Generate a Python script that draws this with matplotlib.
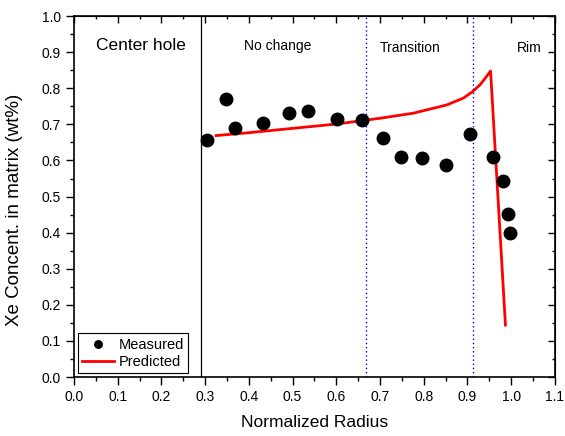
import matplotlib
matplotlib.use("Agg")
import matplotlib.pyplot as plt
from matplotlib.ticker import MultipleLocator, NullFormatter, FormatStrFormatter

plt.rcParams['font.family'] = ['Liberation Sans', 'DejaVu Sans']

meas_x = [0.304, 0.348, 0.368, 0.432, 0.492, 0.535, 0.602, 0.659, 0.707, 0.748,
          0.796, 0.851, 0.906, 0.959, 0.982, 0.993, 0.998]
meas_y = [0.658, 0.769, 0.690, 0.703, 0.732, 0.736, 0.715, 0.711, 0.662, 0.610,
          0.607, 0.588, 0.673, 0.609, 0.543, 0.451, 0.398]

pred_x = [0.325, 0.40, 0.50, 0.60, 0.70, 0.776, 0.853, 0.891, 0.912, 0.929, 0.944, 0.953, 0.987]
pred_y = [0.669, 0.677, 0.689, 0.701, 0.717, 0.731, 0.754, 0.773, 0.791, 0.810, 0.833, 0.848, 0.144]

region_lines = [0.29, 0.669, 0.912]
region_labels = ["Center hole", "No change", "Transition", "Rim"]
label_x = [0.152, 0.465, 0.769, 1.041]
label_y = [0.918, 0.918, 0.913, 0.913]

fig = plt.figure(figsize=(5.65, 4.36), dpi=100)
ax = fig.add_axes([0.131, 0.1353, 0.851, 0.8277])

ax.plot(meas_x, meas_y, 'o', color='black', ms=9, label='Measured', zorder=3)
ax.plot(pred_x, pred_y, '-', color='#ff0000', lw=2.0, label='Predicted', zorder=2)

ax.axvline(region_lines[0], color='black', lw=0.9)
ax.axvline(region_lines[1], color='blue', lw=1.0, ls=(0, (1, 2)))
ax.axvline(region_lines[2], color='blue', lw=1.0, ls=(0, (1, 2)))

ax.text(label_x[0], label_y[0], region_labels[0], ha='center', va='center', fontsize=12.5)
for i in range(1, 4):
    ax.text(label_x[i], label_y[i], region_labels[i], ha='center', va='center', fontsize=10)

ax.set_xlim(0, 1.1)
ax.set_ylim(0, 1.0)
ax.xaxis.set_major_locator(MultipleLocator(0.1))
ax.xaxis.set_minor_locator(MultipleLocator(0.05))
ax.yaxis.set_major_locator(MultipleLocator(0.1))
ax.yaxis.set_minor_locator(MultipleLocator(0.05))
ax.xaxis.set_major_formatter(FormatStrFormatter('%.1f'))
ax.yaxis.set_major_formatter(FormatStrFormatter('%.1f'))
ax.tick_params(which='major', direction='out', length=6, width=1, labelsize=10)
ax.tick_params(which='minor', direction='out', length=3, width=1)

top = ax.secondary_xaxis('top')
top.xaxis.set_major_locator(MultipleLocator(0.1))
top.xaxis.set_minor_locator(MultipleLocator(0.05))
top.xaxis.set_major_formatter(NullFormatter())
top.tick_params(which='major', direction='in', length=5, width=1)
top.tick_params(which='minor', direction='in', length=2.5, width=1)

right = ax.secondary_yaxis('right')
right.yaxis.set_major_locator(MultipleLocator(0.1))
right.yaxis.set_minor_locator(MultipleLocator(0.05))
right.yaxis.set_major_formatter(NullFormatter())
right.tick_params(which='major', direction='in', length=5, width=1)
right.tick_params(which='minor', direction='in', length=2.5, width=1)

for sp in ax.spines.values():
    sp.set_linewidth(1.2)

ax.set_xlabel('Normalized Radius', fontsize=12.5, labelpad=8)
ax.set_ylabel('Xe Concent. in matrix (wt%)', fontsize=13.5)
ax.yaxis.set_label_coords(-0.107, 0.463)

leg = ax.legend(loc='lower left', bbox_to_anchor=(0.008, 0.011), fancybox=False,
                edgecolor='black', framealpha=1, fontsize=10.5, borderpad=0.3,
                handlelength=2.2, handletextpad=0.3, labelspacing=0.2, borderaxespad=0,
                markerscale=0.6)
leg.get_frame().set_linewidth(0.8)

fig.savefig('out.png', dpi=100)
